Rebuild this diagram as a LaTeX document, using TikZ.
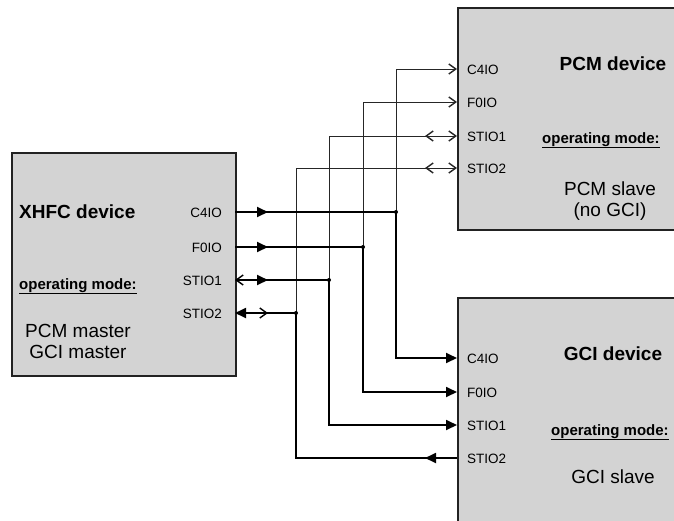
\documentclass[tikz,border=0pt]{standalone}
\usepackage{fontspec}
\setmainfont{Liberation Sans}
\usetikzlibrary{arrows.meta,decorations.markings}
\definecolor{boxgray}{HTML}{D3D3D3}
\definecolor{edgegray}{HTML}{222222}
\tikzset{
  box/.style={draw=edgegray, line width=1.5pt, fill=boxgray, inner sep=0pt, anchor=north west},
  thickline/.style={line width=1.8pt, line cap=butt},
  thinline/.style={line width=0.9pt, draw=black!85},
  tri/.tip={Triangle[length=11pt,width=10pt]},
  barb/.tip={Straight Barb[length=7pt,width=10pt,line width=1.4pt]},
  markfwd/.style 2 args={postaction={decorate}, decoration={markings, mark=at position #1 with {\arrow{#2}}}},
  markrev/.style 2 args={postaction={decorate}, decoration={markings, mark=at position #1 with {\arrowreversed{#2}}}},
  port/.style={font=\fontsize{13.5}{15}\selectfont, inner sep=0pt},
  title/.style={font=\bfseries\fontsize{19}{21}\selectfont, inner sep=0pt},
  opmode/.style={font=\bfseries\fontsize{15}{17}\selectfont, inner sep=0pt},
  modetext/.style={font=\fontsize{19}{21}\selectfont, inner sep=0pt, align=center},
  dot/.style={circle, fill=black, inner sep=0pt, minimum size=4pt}
}
\begin{document}
\begin{tikzpicture}[x=1pt,y=-1pt]
\useasboundingbox (0,0) rectangle (674,520);

% boxes
\node[box, minimum width=224pt, minimum height=223pt] (xhfc) at (11,152) {};
\node[box, minimum width=225pt, minimum height=222pt] (pcm) at (457,7) {};
\node[box, minimum width=225pt, minimum height=240pt] (gci) at (457,297) {};

% port coordinates
\coordinate (xC4) at (235,212);
\coordinate (xF0) at (235,247);
\coordinate (xS1) at (235,280);
\coordinate (xS2) at (235,313);
\coordinate (pC4) at (457,69);
\coordinate (pF0) at (457,102);
\coordinate (pS1) at (457,136);
\coordinate (pS2) at (457,168);
\coordinate (gC4) at (457,358);
\coordinate (gF0) at (457,392);
\coordinate (gS1) at (457,425);
\coordinate (gS2) at (457,458);
\coordinate (j1) at (396,212);
\coordinate (j2) at (363,247);
\coordinate (j3) at (329,280);
\coordinate (j4) at (296,313);

% thin lines to PCM device
\draw[thinline, -barb] (j1) |- (pC4);
\draw[thinline, -barb] (j2) |- (pF0);
\draw[thinline, -barb, markrev={-32pt}{barb}] (j3) |- (pS1);
\draw[thinline, -barb, markrev={-32pt}{barb}] (j4) |- (pS2);

% thick lines from XHFC
\draw[thickline, markfwd={33pt}{tri}] (xC4) -- (j1);
\draw[thickline, markfwd={33pt}{tri}] (xF0) -- (j2);
\draw[thickline, barb-, markfwd={33pt}{tri}] (xS1) -- (j3);
\draw[thickline, tri-, markfwd={33pt}{barb}] (xS2) -- (j4);

% thick lines to GCI device
\draw[thickline, -tri] (j1) |- (gC4);
\draw[thickline, -tri] (j2) |- (gF0);
\draw[thickline, -tri] (j3) |- (gS1);
\draw[thickline, markfwd={32pt}{tri}] (gS2) -| (j4);

% junction dots
\node[dot] (d1) at (j1) {};
\node[dot] (d2) at (j2) {};
\node[dot] (d3) at (j3) {};
\node[dot] (d4) at (j4) {};

% XHFC texts
\node[title, anchor=base west] (xt) at (19,218) {XHFC device};
\node[opmode, anchor=base west] (xo) at (19,289) {\underline{operating mode:}};
\node[modetext] (xm) at (78,341) {PCM master\\GCI master};
\node[port, anchor=base east] (xl1) at (222,217) {C4IO};
\node[port, anchor=base east] (xl2) at (222,252) {F0IO};
\node[port, anchor=base east] (xl3) at (222,285) {STIO1};
\node[port, anchor=base east] (xl4) at (222,318) {STIO2};

% PCM texts
\node[title, anchor=base] (pt) at (613,70) {PCM device};
\node[opmode, anchor=base west] (po) at (542,143) {\underline{operating mode:}};
\node[modetext] (pm) at (610,201) {PCM slave\\(no GCI)};
\node[port, anchor=base west] (pl1) at (467,74) {C4IO};
\node[port, anchor=base west] (pl2) at (467,107) {F0IO};
\node[port, anchor=base west] (pl3) at (467,141) {STIO1};
\node[port, anchor=base west] (pl4) at (467,173) {STIO2};

% GCI texts
\node[title, anchor=base] (gt) at (613,360) {GCI device};
\node[opmode, anchor=base west] (go) at (551,435) {\underline{operating mode:}};
\node[modetext] (gm) at (613,477) {GCI slave};
\node[port, anchor=base west] (gl1) at (467,363) {C4IO};
\node[port, anchor=base west] (gl2) at (467,397) {F0IO};
\node[port, anchor=base west] (gl3) at (467,430) {STIO1};
\node[port, anchor=base west] (gl4) at (467,463) {STIO2};
\end{tikzpicture}
\end{document}
